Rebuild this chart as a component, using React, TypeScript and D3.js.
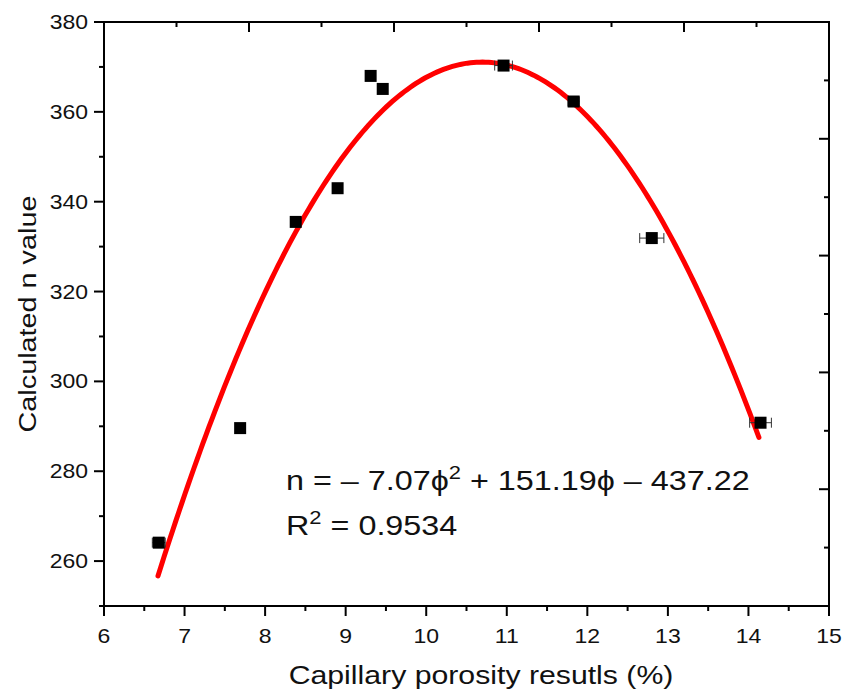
import React from "react";
import * as d3 from "d3";

const porosity = [6.68, 7.69, 8.38, 8.9, 9.31, 9.46, 10.96, 11.83, 12.8, 14.15];
const nValues = [264.1, 289.6, 335.5, 343.0, 368.0, 365.1, 370.3, 362.3, 331.9, 290.8];
const xErrors = [0.08, 0.03, 0.03, 0.03, 0.03, 0.03, 0.11, 0.07, 0.15, 0.135];
const fitCoeffs = [-7.07, 151.19, -437.22];
const fitRange = [6.67, 14.13];
const xTicks = [6, 7, 8, 9, 10, 11, 12, 13, 14, 15];
const yTicks = [260, 280, 300, 320, 340, 360, 380];

const W = 846, H = 691;
const L = 104, R = 829, T = 22, B = 606;
const FONT = "'Liberation Sans', Arial, sans-serif";

function SText(props: { x: number; y: number; size: number; sx: number; anchor?: string; rotate?: number; children: React.ReactNode }) {
  const { x, y, size, sx, anchor = "start", rotate = 0, children } = props;
  return (
    <text
      transform={`translate(${x},${y}) rotate(${rotate}) scale(${sx},1)`}
      fontSize={size}
      textAnchor={anchor}
      fill="#111"
    >
      {children}
    </text>
  );
}

export default function App() {
  const x = d3.scaleLinear().domain([6, 15]).range([L, R]);
  const y = d3.scaleLinear().domain([250, 380]).range([B, T]);

  const fit = (p: number) => fitCoeffs[0] * p * p + fitCoeffs[1] * p + fitCoeffs[2];
  const samples = d3.range(0, 201).map((i) => fitRange[0] + ((fitRange[1] - fitRange[0]) * i) / 200);
  const line = d3.line<number>().x((p) => x(p)).y((p) => y(fit(p))).curve(d3.curveLinear);

  const xMinor = d3.range(6.5, 15, 1);
  const yMinor = d3.range(250, 381, 10).filter((v) => v % 20 !== 0);
  const top = d3.scaleLinear().domain([0, 10]).range([L, R]);
  const right = d3.scaleLinear().domain([0, 10]).range([B, T]);
  const opp = d3.range(1, 10);

  return (
    <svg width={W} height={H} style={{ position: "absolute", left: 0, top: 0, fontFamily: FONT }}>
      <rect x={0} y={0} width={W} height={H} fill="white" />
      {/* frame */}
      <rect x={L} y={T} width={R - L} height={B - T} fill="none" stroke="black" strokeWidth={2} />
      {/* bottom ticks */}
      {xTicks.map((t) => (
        <g key={"xt" + t}>
          <line x1={x(t)} x2={x(t)} y1={B} y2={B + 10} stroke="black" strokeWidth={2} />
          <SText x={x(t)} y={643} size={20} sx={1.15} anchor="middle">{t}</SText>
        </g>
      ))}
      {xMinor.map((t) => (
        <line key={"xm" + t} x1={x(t)} x2={x(t)} y1={B} y2={B + 5} stroke="black" strokeWidth={2} />
      ))}
      {/* left ticks */}
      {yTicks.map((t) => (
        <g key={"yt" + t}>
          <line x1={L - 10} x2={L} y1={y(t)} y2={y(t)} stroke="black" strokeWidth={2} />
          <SText x={88} y={y(t) + 7} size={20} sx={1.15} anchor="end">{t}</SText>
        </g>
      ))}
      {yMinor.map((t) => (
        <line key={"ym" + t} x1={L - 5} x2={L} y1={y(t)} y2={y(t)} stroke="black" strokeWidth={2} />
      ))}
      {/* top & right ticks (inward) */}
      {opp.map((k) => (
        <g key={"op" + k}>
          <line x1={top(k)} x2={top(k)} y1={T} y2={T + (k % 2 === 0 ? 10 : 5)} stroke="black" strokeWidth={2} />
          <line x1={R - (k % 2 === 0 ? 10 : 5)} x2={R} y1={right(k)} y2={right(k)} stroke="black" strokeWidth={2} />
        </g>
      ))}
      {/* axis titles */}
      <SText x={481} y={684} size={25} sx={1.21} anchor="middle">Capillary porosity resutls (%)</SText>
      <SText x={36} y={314} size={24} sx={1.2} anchor="middle" rotate={-90}>Calculated n value</SText>
      {/* fit curve */}
      <path d={line(samples) || ""} fill="none" stroke="#ff0000" strokeWidth={5} strokeLinecap="round" />
      {/* error bars and points */}
      {porosity.map((p, i) => {
        const cy = y(nValues[i]);
        const x0 = x(p - xErrors[i]);
        const x1 = x(p + xErrors[i]);
        return (
          <g key={"pt" + i}>
            <line x1={x0} x2={x1} y1={cy} y2={cy} stroke="#333" strokeWidth={1} />
            <line x1={x0} x2={x0} y1={cy - 5} y2={cy + 5} stroke="#333" strokeWidth={1} />
            <line x1={x1} x2={x1} y1={cy - 5} y2={cy + 5} stroke="#333" strokeWidth={1} />
            <rect x={x(p) - 6} y={cy - 6} width={12} height={12} fill="black" />
          </g>
        );
      })}
      {/* annotation */}
      <SText x={286} y={490} size={28} sx={1.155}>
        n = – 7.07ϕ<tspan dy={-11} fontSize={19}>2</tspan><tspan dy={11}> + 151.19ϕ – 437.22</tspan>
      </SText>
      <SText x={286} y={535} size={28} sx={1.155}>
        R<tspan dy={-11} fontSize={19}>2</tspan><tspan dy={11}> = 0.9534</tspan>
      </SText>
    </svg>
  );
}
